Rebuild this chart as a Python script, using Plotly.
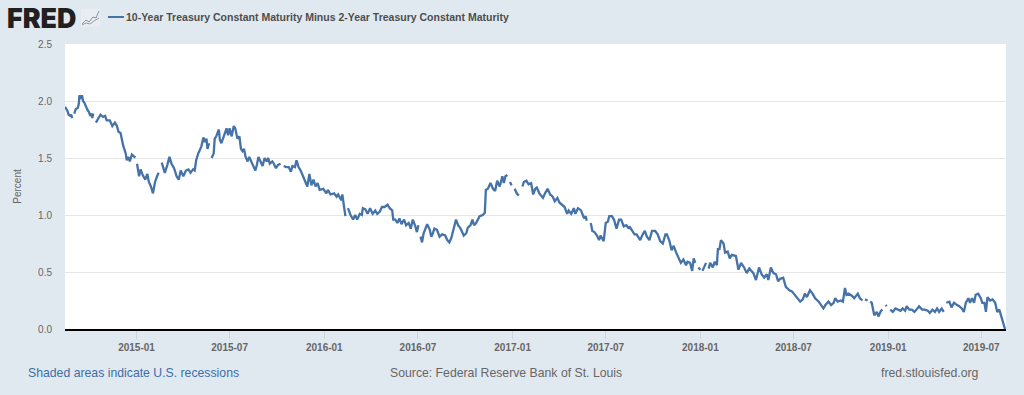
import pandas as pd
import plotly.graph_objects as go

START_DATE = "2014-08-15"
TITLE = "10-Year Treasury Constant Maturity Minus 2-Year Treasury Constant Maturity"
TICK_DATES = ["2015-01-01", "2015-07-01", "2016-01-01", "2016-07-01", "2017-01-01",
              "2017-07-01", "2018-01-01", "2018-07-01", "2019-01-01", "2019-07-01"]
TICK_LABELS = ["2015-01", "2015-07", "2016-01", "2016-07", "2017-01",
               "2017-07", "2018-01", "2018-07", "2019-01", "2019-07"]
Y_TICKS = [0.0, 0.5, 1.0, 1.5, 2.0, 2.5]

# Days since START_DATE and the spread (percent); None marks a gap.
days_a = [0, 3, 5, 7, 10, 12, 14, 16, 18, 21, 25, 27, 28, 31, 33, 35, 37, 41, 44, 47, 49, 52, 53, 55, 57,
          60, 64, 69, 74, 78, 81, 87, 92, 97, 101, 104, 108, 113, 118, 120, 123, 126, 130, 135, 136, 138,
          140, 144, 147, 151, 156, 160, 163, 167, 171, 175, 179, 182, 184, 188, 194, 199, 203, 207, 212,
          217, 221, 225, 230, 235, 240, 244, 249]
vals_a = [1.95, 1.93, 1.91, 1.88, 1.87, 1.88, 1.85, None, 1.89, 1.93, 1.94, 1.98, 2.05, 2.02, 2.05, 2.00, 1.99,
          1.94, 1.92, 1.90, 1.87, 1.89, 1.85, 1.89, None,
          1.81, 1.84, 1.88, 1.86, 1.87, 1.83, 1.83, 1.78, 1.81, 1.78, 1.73, 1.72, 1.61, 1.54, 1.48, 1.51, 1.47,
          1.53, 1.51, 1.52, None,
          1.45, 1.34, 1.40, 1.35, 1.31, 1.36, 1.29, 1.25, 1.19, 1.29, 1.34, 1.37, None, 1.46, 1.37, 1.44, 1.51,
          1.45, 1.41, 1.34, 1.31, 1.39, 1.34, 1.39, 1.40, 1.37, 1.40]

days_b = [252, 255, 259, 262, 265, 269, 272, 275, 277, 280, 282, 285, 289, 291, 294, 299, 301, 304, 307, 311,
          314, 317, 320, 324, 328, 331, 335, 339, 342, 345, 348, 351, 355, 358, 362, 366, 370, 373, 376, 380,
          384, 388, 392, 395, 398, 403, 406, 410, 414, 419, 422, 425, 430, 435, 439, 442, 447, 450, 454, 458,
          463, 467, 471, 475, 479, 483, 487, 491, 495, 502, 508, 511, 516, 523, 528, 531]
vals_b = [1.39, 1.48, 1.54, 1.57, 1.60, 1.68, 1.64, 1.67, 1.58, 1.63, None, 1.50, 1.54, 1.67, 1.69, 1.75, 1.66,
          1.63, 1.67, 1.72, 1.76, 1.70, 1.76, 1.69, 1.78, 1.76, 1.67, 1.69, 1.58, 1.56, 1.58, 1.51, 1.47, 1.51,
          1.47, 1.44, 1.39, 1.44, 1.51, 1.47, 1.43, 1.50, 1.47, 1.50, 1.45, 1.47, 1.45, 1.41, 1.44, 1.45, None,
          1.43, 1.42, 1.42, 1.38, 1.43, 1.42, 1.48, 1.42, 1.39, 1.34, 1.29, 1.25, 1.36, 1.26, 1.31, 1.25, 1.28,
          1.22, 1.23, 1.19, 1.22, 1.18, 1.19, 1.16, 1.18]

days_c = [534, 537, 539, 542, 545, 547, 550, 555, 560, 564, 568, 573, 577, 579, 584, 588, 593, 598, 603, 607,
          612, 616, 621, 627, 631, 636, 638, 642, 646, 650, 654, 659, 663, 668, 672, 676, 681, 684, 687, 689,
          691, 694, 697, 700, 704, 709, 712, 715, 718, 723, 728, 733, 739, 743, 747, 751, 755, 760, 764, 769,
          775, 780, 783, 788, 792, 795, 799, 803, 806]
vals_c = [1.16, 1.13, 1.18, 1.09, 0.99, None, 1.06, 1.00, 0.96, 1.00, 0.96, 1.01, 1.00, 1.06, 1.05, 1.01, 1.06,
          1.01, 1.04, 1.01, 1.03, 1.07, 1.07, 1.09, 1.06, 1.04, 0.96, 0.96, 0.93, 0.97, 0.92, 0.96, 0.91, 0.93,
          0.88, 0.96, 0.90, 0.85, 0.91, None, 0.81, 0.76, 0.84, 0.88, 0.92, 0.87, 0.81, 0.84, 0.88, 0.87, 0.81,
          0.83, 0.82, 0.78, 0.76, 0.80, 0.88, 0.96, 0.91, 0.88, 0.82, 0.84, 0.89, 0.91, 0.96, 0.91, 0.93, 0.97,
          0.99]

days_d = [812, 816, 818, 822, 827, 832, 836, 840, 845, 850, 853, 856, 860, 862, 865, 868, 871, 874, 878, 882,
          885, 889, 892, 897, 901, 906, 910, 914, 917, 922, 929, 933, 938, 943, 948, 952, 957, 961, 966, 971,
          976, 979, 984, 989, 992, 997, 1003, 1009, 1012, 1014, 1018, 1022, 1025, 1029, 1034, 1038, 1041, 1047,
          1051, 1055, 1058, 1063, 1067, 1072, 1077, 1081, 1086, 1091, 1096]
vals_d = [1.00, 1.02, 1.22, 1.23, 1.28, 1.23, 1.21, 1.30, 1.25, 1.34, 1.28, 1.34, 1.35, None, 1.29, 1.26, None,
          1.23, 1.19, 1.17, None, 1.25, 1.29, 1.30, 1.27, 1.28, 1.18, 1.23, 1.24, 1.19, 1.15, 1.19, 1.23, 1.18,
          1.16, 1.12, 1.15, 1.11, 1.09, 1.07, 1.01, 1.04, 1.01, 1.06, 1.01, 1.06, 1.04, 0.97, 0.99, 0.95, None,
          0.93, 0.86, 0.85, 0.82, 0.78, 0.82, 0.77, 0.93, 0.94, 0.99, 0.99, 0.96, 0.88, 0.96, 0.96, 0.90, 0.91,
          0.88]

days_e = [1097, 1102, 1107, 1111, 1118, 1123, 1127, 1131, 1136, 1141, 1147, 1152, 1157, 1162, 1167, 1170, 1175,
          1179, 1183, 1188, 1193, 1197, 1202, 1207, 1210, 1215, 1219, 1222, 1225, 1228, 1231, 1235, 1237, 1239,
          1243, 1246, 1248, 1251, 1254, 1259, 1263, 1267, 1269, 1272, 1275, 1280, 1283, 1288, 1292, 1296, 1301,
          1304, 1309, 1314, 1320, 1325, 1330, 1334, 1338, 1343, 1346, 1349, 1354, 1359, 1364, 1367, 1372, 1377,
          1382, 1386, 1390, 1396, 1401, 1406]
vals_e = [0.90, 0.87, 0.83, 0.83, 0.78, 0.83, 0.86, 0.81, 0.78, 0.86, 0.86, 0.83, 0.77, 0.75, 0.83, 0.83, 0.77,
          0.69, 0.73, 0.67, 0.61, 0.58, 0.61, 0.56, 0.59, 0.58, 0.51, 0.62, 0.58, None, 0.54, 0.52, None, 0.51,
          0.55, 0.58, None, 0.53, 0.58, 0.54, 0.59, 0.56, 0.70, 0.70, 0.78, 0.75, 0.67, 0.68, 0.62, 0.65, 0.64,
          0.64, 0.52, 0.58, 0.54, 0.49, 0.53, 0.51, 0.49, 0.43, 0.48, 0.54, 0.48, 0.45, 0.48, 0.43, 0.54, 0.49,
          0.48, 0.42, 0.44, 0.45, 0.37, 0.35]

days_f = [1408, 1413, 1418, 1424, 1429, 1434, 1438, 1442, 1448, 1453, 1458, 1465, 1469, 1474, 1478, 1484, 1489,
          1494, 1497, 1502, 1508, 1512, 1516, 1519, 1523, 1530, 1534, 1541, 1545, 1550, 1552, 1555, 1560, 1562,
          1565, 1568, 1573, 1578, 1581, 1586, 1589, 1592, 1595, 1597, 1600, 1604, 1609, 1614, 1618, 1624, 1628,
          1633, 1636, 1641, 1646, 1651, 1655, 1660, 1666, 1671, 1677, 1681, 1686, 1691, 1695, 1699, 1704, 1708,
          1710, 1713, 1719, 1723, 1728, 1734, 1738, 1743, 1747, 1751, 1756, 1759, 1763, 1767, 1770, 1775, 1780,
          1783, 1787, 1790, 1793, 1798, 1803, 1808, 1812, 1816, 1819, 1822, 1825, 1827]
vals_f = [0.34, 0.33, 0.30, 0.27, 0.24, 0.26, 0.31, 0.28, 0.34, 0.31, 0.27, 0.24, 0.21, 0.18, 0.21, 0.24, 0.21,
          0.23, 0.27, 0.24, 0.25, 0.24, 0.36, 0.30, 0.31, 0.29, 0.27, 0.31, 0.27, 0.25, None, 0.26, 0.25, None,
          0.24, 0.23, 0.12, 0.15, 0.11, 0.16, 0.17, None, 0.21, 0.20, None, 0.17, 0.15, 0.18, 0.17, 0.16, 0.18,
          0.16, 0.20, 0.17, 0.17, 0.15, 0.17, 0.20, 0.17, 0.17, 0.16, 0.14, 0.17, 0.15, 0.18, 0.15, 0.18, 0.15,
          None, 0.23, 0.24, 0.19, 0.23, 0.21, 0.20, 0.18, 0.15, 0.23, 0.27, 0.23, 0.27, 0.23, 0.30, 0.31, 0.27,
          0.23, 0.23, 0.15, 0.28, 0.25, 0.26, 0.23, 0.15, 0.17, 0.12, 0.08, 0.04, 0.00]

days = days_a + days_b + days_c + days_d + days_e + days_f
spread = vals_a + vals_b + vals_c + vals_d + vals_e + vals_f
dates = pd.Timestamp(START_DATE) + pd.to_timedelta(days, unit="D")

W, H = 1024, 395
L, R, T, B = 65, 18, 44, 66
BG = "#e1e9f0"
BLUE = "#4572a7"
GREY = "#666666"


def px(x):
    return (x - L) / (W - L - R)


def py(y):
    return 1 - (y - T) / (H - T - B)


def poly(points):
    return "M " + " L ".join(f"{px(a):.5f},{py(b):.5f}" for a, b in points)


fig = go.Figure(go.Scatter(x=dates, y=spread, mode="lines", connectgaps=False,
                           line=dict(color=BLUE, width=2.3), showlegend=False))

shapes = [
    dict(type="line", xref="paper", yref="paper", x0=px(108), x1=px(124), y0=py(17), y1=py(17),
         line=dict(color=BLUE, width=2)),
    dict(type="rect", xref="paper", yref="paper", x0=px(81), x1=px(100), y0=py(9), y1=py(27),
         fillcolor="#e9edf3", line=dict(width=0)),
    dict(type="path", xref="paper", yref="paper",
         path=poly([(82, 24), (86, 20), (89, 22), (93, 17), (96, 18), (99, 11)]),
         line=dict(color="#7f95b3", width=1)),
    dict(type="path", xref="paper", yref="paper",
         path=poly([(82, 25), (86, 23), (90, 24), (94, 21), (99, 18)]),
         line=dict(color="#9a9a9a", width=1)),
]


def note(x, y, text, size, color, anchor="left", family="Liberation Sans", **kw):
    return dict(x=px(x), y=py(y), xref="paper", yref="paper", text=text, showarrow=False,
                xanchor=anchor, yanchor="middle", xshift=0, borderpad=0, borderwidth=0,
                font=dict(family=family, size=size, color=color, **kw))


annotations = [
    note(7, 18, "FRED", 26.8, "#231f20", family="Inter", weight=900),
    note(126, 17, f"<b>{TITLE}</b>", 10.5, "#4d4d4d"),
    note(28, 373, "Shaded areas indicate U.S. recessions", 12.25, "#3e6ea8"),
    note(390, 373, "Source: Federal Reserve Bank of St. Louis", 12.25, GREY),
    note(881, 373, "fred.stlouisfed.org", 12.25, GREY),
]

fig.update_layout(
    width=W, height=H, autosize=False,
    margin=dict(l=L, r=R, t=T, b=B, pad=0),
    paper_bgcolor=BG, plot_bgcolor="#ffffff",
    font=dict(family="Liberation Sans", color=GREY, size=10),
    shapes=shapes, annotations=annotations,
    xaxis=dict(type="date", range=[START_DATE, "2019-08-18"], tickmode="array",
               tickvals=TICK_DATES, ticktext=[f"<b>{t}</b>" for t in TICK_LABELS],
               showgrid=False, showline=True, linecolor="#000000", linewidth=2,
               ticks="outside", ticklen=8, tickcolor="#c8d4e0", tickwidth=1,
               tickfont=dict(size=10, color=GREY), zeroline=False),
    yaxis=dict(range=[0, 2.5], tickmode="array", tickvals=Y_TICKS, tickformat=".1f",
               showgrid=True, gridcolor="#e6e6e6", gridwidth=1, zeroline=False,
               ticks="", ticklabelstandoff=12, tickfont=dict(size=10, color=GREY),
               title=dict(text="Percent", font=dict(size=10, color=GREY), standoff=14)),
)

fig.write_html("out.html", config={"displayModeBar": False},
               post_script="document.body.style.margin='0';document.body.style.overflow='hidden';")
